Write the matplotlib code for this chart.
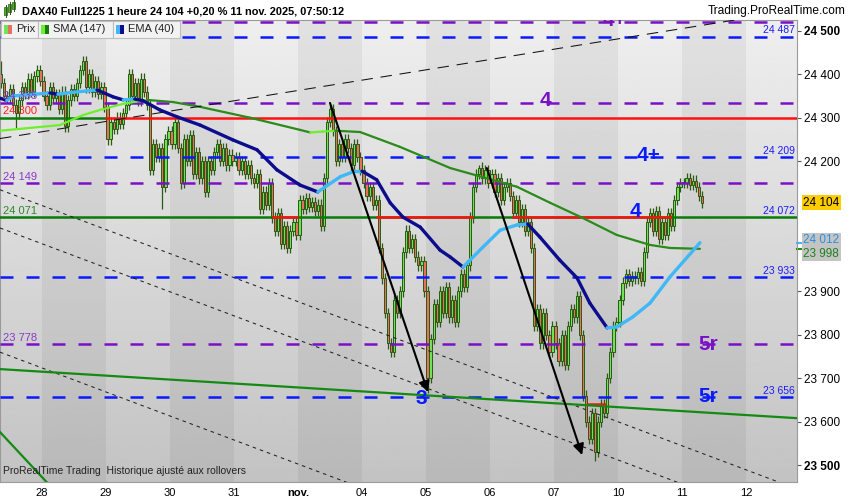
import numpy as np
import matplotlib.pyplot as plt
import matplotlib.transforms as mtransforms
from matplotlib.patches import Rectangle

plt.rcParams['font.family'] = ['Liberation Sans', 'DejaVu Sans']

# séances affichées (position 0 = 28 oct.)
day_labels = ['28', '29', '30', '31', 'nov.', '04', '05', '06', '07', '10', '11', '12']
slots_per_day = 21
first_slot = {-1: 7}
first_open = 24400

# clôtures horaires, une liste par séance
closes = {
    -1: [24380, 24350, 24345, 24365, 24330, 24310, 24340, 24370, 24355, 24390, 24360, 24395, 24410, 24385],
    0: [24350, 24330, 24370, 24345, 24355, 24320, 24360, 24280, 24340, 24365, 24350, 24380, 24410, 24430,
        24370, 24400, 24360, 24385, 24355, 24370, 24325],
    1: [24250, 24290, 24275, 24300, 24285, 24310, 24330, 24400, 24350, 24380, 24340, 24390, 24360, 24330,
        24180, 24240, 24210, 24230, 24140, 24250, 24270],
    2: [24240, 24290, 24230, 24150, 24250, 24200, 24260, 24170, 24220, 24160, 24200, 24130, 24200, 24180,
        24220, 24240, 24200, 24230, 24190, 24215, 24200],
    3: [24210, 24180, 24200, 24170, 24190, 24160, 24150, 24170, 24090, 24130, 24100, 24150, 24070, 24040,
        24080, 24010, 24050, 24000, 24040, 24060, 24030],
    4: [24110, 24090, 24115, 24095, 24105, 24085, 24100, 24050, 24160, 24290, 24320, 24270, 24200, 24240,
        24210, 24250, 24230, 24190, 24240, 24210, 24180],
    5: [24150, 24120, 24140, 24100, 24110, 24000, 23930, 23850, 23780, 23760, 23880, 23850, 23900, 23990,
        24040, 24000, 24020, 23980, 23960, 23970, 23900],
    6: [23700, 23790, 23870, 23830, 23900, 23850, 23910, 23840, 23880, 23830, 23900, 23940, 23910, 23960,
        24070, 24140, 24170, 24185, 24160, 24180, 24150],
    7: [24170, 24130, 24160, 24110, 24140, 24150, 24120, 24080, 24110, 24060, 24090, 24040, 24060, 24000,
        23820, 23860, 23780, 23850, 23800, 23760, 23820],
    8: [23780, 23740, 23800, 23730, 23820, 23860, 23840, 23890, 23800, 23660, 23600, 23560, 23620, 23530,
        23600, 23640, 23620, 23700, 23760, 23820, 23830],
    9: [23880, 23920, 23940, 23925, 23935, 23930, 23945, 23925, 23990, 24060, 24080, 24040, 24085, 24020,
        24060, 24030, 24080, 24050, 24110, 24140, 24150],
    10: [24150, 24160, 24145, 24155, 24140, 24120, 24104],
}
wick = 12
spike_high = {(-1, 7): 24430, (4, 10): 24332, (6, 17): 24191}
spike_low = {(-1, 12): 24276, (0, 7): 24267, (1, 18): 24090, (2, 3): 24135, (6, 0): 23665, (8, 13): 23510}

# SMA (147) et EMA (40) : (position, valeur)
sma_t = [-0.656, 0.28, 0.64, 0.91, 1.27, 1.64, 2.05, 2.47, 3.25, 4.03, 4.19, 4.39, 4.58, 4.97,
         5.59, 6.38, 7.42, 7.94, 8.45, 8.98, 9.5, 9.81, 10.28]
sma_v = [24270, 24283, 24306, 24318, 24332, 24341, 24336, 24325, 24300, 24272, 24266, 24268, 24270, 24267,
         24233, 24184, 24141, 24104, 24069, 24030, 24007, 24000, 23998]
ema_t = [-0.656, -0.55, -0.45, 0.125, 0.25, 0.39, 0.86, 1.11, 1.27, 1.45, 1.58, 1.84, 2.11, 2.47, 2.98,
         3.36, 3.67, 4.03, 4.31, 4.66, 4.89, 5.0, 5.23, 5.44, 5.64, 5.91, 6.22, 6.38, 6.58, 6.89, 7.16,
         7.42, 7.59, 7.78, 8.09, 8.36, 8.56, 8.83, 8.98, 9.23, 9.5, 9.81, 10.28]
ema_v = [24345, 24340, 24350, 24357, 24354, 24357, 24364, 24348, 24341, 24343, 24339, 24318, 24302, 24283,
         24249, 24226, 24180, 24145, 24129, 24164, 24177, 24177, 24157, 24104, 24071, 24048, 23995, 23979,
         23956, 24002, 24041, 24053, 24055, 24025, 23972, 23931, 23873, 23816, 23818, 23841, 23873, 23933,
         24012]

purple_levels = [24521, 24335, 24149, 23778]
blue_levels = [24487, 24209, 23933, 23656]
blue_level_labels = ['24 487', '24 209', '23 933', '23 656']
level_24300 = 24300
level_24300_red_from = 1.0
level_main = 24071
level_main_red = [(3.61, 3.98), (5.23, 6.72), (7.36, 9.81)]
level_low_red = (23640, 8.53, 8.80)

# lignes de tendance : (position, prix) aux deux extrémités
trend_dashed = [(-0.656, 24252), (11.797, 24548)]
trend_dotted = [[(-0.656, 24134), (11.797, 23445)],
                [(-0.656, 24046), (11.797, 23357)],
                [(-0.656, 23760), (11.797, 23071)]]
trend_green = [[(-0.656, 23721), (11.797, 23608)],
               [(-0.656, 23576), (0.9, 23330)]]
arrows = [((4.5, 24334), (6.03, 23668)), ((6.95, 24184), (8.44, 23523))]

xmin, xmax = -0.656, 11.797
ymin, ymax = 23461, 24525

# ---- construction des bougies
xs, op, cl, hi, lo = [], [], [], [], []
prev = first_open
for d in sorted(closes):
    s0 = first_slot.get(d, 0)
    for k, c in enumerate(closes[d]):
        s = s0 + k
        xs.append(d + (s + 0.5) / slots_per_day)
        op.append(prev)
        cl.append(c)
        hi.append(spike_high.get((d, s), max(prev, c) + wick))
        lo.append(spike_low.get((d, s), min(prev, c) - wick))
        prev = c
xs, op, cl, hi, lo = map(np.array, (xs, op, cl, hi, lo))

fig = plt.figure(figsize=(8.5, 5), dpi=100)
ax = fig.add_axes([0, 18 / 500, 797 / 850, 462 / 500])

# fond dégradé + bandes par séance
grad = np.linspace(0.935, 0.765, 200).reshape(-1, 1)
ax.imshow(grad, extent=[xmin, xmax, ymin, ymax], aspect='auto', cmap='gray', vmin=0, vmax=1, zorder=0)
for d in range(0, 12, 2):
    ax.axvspan(d, d + 1, color='black', alpha=0.05, lw=0, zorder=0.5)

# bougies
up = cl >= op
bw = 0.72 / slots_per_day
edge = '#2b5a12'
ax.vlines(xs, lo, hi, color=edge, lw=0.9, zorder=2)
ax.bar(xs, np.where(np.abs(cl - op) < 2, 2, cl - op), bottom=op, width=bw,
       color=np.where(up, '#6ee35a', '#e8705e'), edgecolor=edge, linewidth=0.7, zorder=2.1)

# niveaux horizontaux
lw_lvl = 1.8
for v in purple_levels:
    ax.axhline(v, color='#7a10c8', lw=lw_lvl, ls=(0, (5.2, 5.2)), zorder=3)
for v in blue_levels:
    ax.axhline(v, color='#0a1aff', lw=lw_lvl, ls=(0, (5.2, 5.2)), zorder=3)
ax.plot([xmin, level_24300_red_from], [level_24300] * 2, color='#0a7a0a', lw=lw_lvl, zorder=3)
ax.plot([level_24300_red_from, xmax], [level_24300] * 2, color='#ff1010', lw=lw_lvl, zorder=3)
ax.axhline(level_main, color='#0a7a0a', lw=lw_lvl, zorder=3)
for a, b in level_main_red:
    ax.plot([a, b], [level_main] * 2, color='#ff1010', lw=lw_lvl, zorder=3.1)
ax.plot(level_low_red[1:], [level_low_red[0]] * 2, color='#ff1010', lw=lw_lvl, zorder=3.1)

# moyennes mobiles, couleur selon la pente
def slope_line(t, v, c_up, c_dn, lw):
    for i in range(len(t) - 1):
        col = c_up if v[i + 1] >= v[i] else c_dn
        ax.plot(t[i:i + 2], v[i:i + 2], color=col, lw=lw, solid_capstyle='round', zorder=4)

slope_line(sma_t, sma_v, '#6cf02a', '#2a8a1a', 1.6)
slope_line(ema_t, ema_v, '#40b8f8', '#0c0c8c', 2.4)

# lignes de tendance
ax.plot(*zip(*trend_dashed), color='#111111', lw=0.75, ls=(0, (11, 7.5)), zorder=4)
for ln in trend_dotted:
    ax.plot(*zip(*ln), color='#222222', lw=0.75, ls=(0, (3.4, 3.8)), zorder=4)
for ln in trend_green:
    ax.plot(*zip(*ln), color='#138a13', lw=1.6, zorder=4)
for a, b in arrows:
    ax.annotate('', xy=b, xytext=a, zorder=5,
                arrowprops=dict(arrowstyle='-|>', color='black', lw=1.5, mutation_scale=16,
                                shrinkA=0, shrinkB=0))

# étiquettes de niveaux
big = dict(fontsize=15, fontweight='bold', ha='center', va='center', zorder=6, clip_on=True)
ax.text(8.95, 24523, '4+', color='#7a10c8', **big)
ax.text(7.86, 24339, '4', color='#7a10c8', **big)
ax.text(9.47, 24214, '4+', color='#0a1aff', **big)
ax.text(9.27, 24085, '4', color='#0a1aff', **big)
ax.text(10.41, 23777, '5r', color='#7a10c8', **big)
ax.text(10.41, 23657, '5r', color='#0a1aff', **big)
ax.text(5.92, 23654, '3', color='#0a1aff', **big)

trans = mtransforms.blended_transform_factory(ax.transAxes, ax.transData)
for v, lab in zip(blue_levels, blue_level_labels):
    ax.text(0.997, v + 3, lab, transform=trans, ha='right', va='bottom', color='#1a1aff', fontsize=7.5, zorder=6)
ax.text(0.997, level_main + 3, '24 072', transform=trans, ha='right', va='bottom', color='#1a1aff',
        fontsize=7.5, zorder=6)
left_labels = [(24335, '24 335', '#8a3ac8'), (24300, '24 300', '#ff2020'), (24149, '24 149', '#8a3ac8'),
               (24071, '24 071', '#2a8a2a'), (23778, '23 778', '#8a3ac8')]
for v, lab, col in left_labels:
    ax.text(0.004, v + 3, lab, transform=trans, ha='left', va='bottom', color=col, fontsize=8, zorder=6)

ax.text(0.004, 0.012, 'ProRealTime Trading  Historique ajusté aux rollovers', transform=ax.transAxes,
        fontsize=7.5, color='#222222', va='bottom', zorder=6)

# axes
ax.set_xlim(xmin, xmax)
ax.set_ylim(ymin, ymax)
ax.set_xticks(range(len(day_labels)))
ax.set_xticklabels(day_labels, fontsize=8)
ax.get_xticklabels()[4].set_fontweight('bold')
ax.tick_params(axis='x', length=0, pad=4)
yt = [23500, 23600, 23700, 23800, 23900, 24200, 24300, 24400, 24500]
ax.yaxis.tick_right()
ax.set_yticks(yt)
ax.set_yticklabels([f'{v:,}'.replace(',', ' ') for v in yt], fontsize=8.5)
for t in ax.get_yticklabels():
    if t.get_text() in ('24 500', '23 500'):
        t.set_fontweight('bold')
ax.tick_params(axis='y', length=3, color='#555555', pad=2)
for sp in ax.spines.values():
    sp.set_color('#9a9a9a')
    sp.set_linewidth(0.8)

# cartouches de valeurs à droite
boxes = [(24104, '24 104', '#000000', '#ffcc00'), (24018, '24 012', '#2a90e0', '#c4c4c4'),
         (23986, '23 998', '#208020', '#c4c4c4')]
for v, lab, tc, bc in boxes:
    ax.text(1.008, v, lab, transform=trans, ha='left', va='center', fontsize=8.5, color=tc, zorder=7,
            clip_on=False, bbox=dict(boxstyle='square,pad=0.12', fc=bc, ec='none'))
ax.plot([1.0, 1.007], [24012, 24012], transform=trans, color='#40b8f8', lw=1.5, clip_on=False)
ax.plot([1.0, 1.007], [23998, 23998], transform=trans, color='#2a8a1a', lw=1.5, clip_on=False)

# en-tête et légende (coordonnées pixels)
ov = fig.add_axes([0, 0, 1, 1], zorder=10)
ov.set_xlim(0, 850)
ov.set_ylim(500, 0)
ov.axis('off')
ov.patch.set_alpha(0)
for x0, y0, y1, c in [(6, 7, 15, '#4caf30'), (10, 4, 12, '#4caf30'), (14, 2, 9, '#4caf30')]:
    ov.plot([x0, x0], [y0 - 2, y1 + 2], color='#2b5a12', lw=0.7)
    ov.add_patch(Rectangle((x0 - 1.5, y0), 3, y1 - y0, fc=c, ec='#2b5a12', lw=0.5))
ov.text(22, 11, 'DAX40 Full1225 1 heure 24 104 +0,20 % 11 nov. 2025, 07:50:12', fontsize=7.9,
        fontweight='bold', va='center', ha='left')
ov.text(846, 11, 'Trading.ProRealTime.com', fontsize=8.6, va='center', ha='right')

legend = [(1, 38, 'Prix', '#6ee35a', '#e8705e'), (38, 113, 'SMA (147)', '#6cf02a', '#1a7a0a'),
          (113, 180, 'EMA (40)', '#40b8f8', '#0c0c8c')]
for x0, x1, lab, c1, c2 in legend:
    ov.add_patch(Rectangle((x0, 21), x1 - x0, 17, fc='#f2f2f2', ec='#bdbdbd', lw=0.8))
    ov.add_patch(Rectangle((x0 + 3, 25), 4, 9, fc=c1, ec='none'))
    ov.add_patch(Rectangle((x0 + 7, 25), 4, 9, fc=c2, ec='none'))
    ov.text(x0 + 15, 29.5, lab, fontsize=8, va='center', ha='left', color='#222222')

fig.savefig('out.png', dpi=100)
